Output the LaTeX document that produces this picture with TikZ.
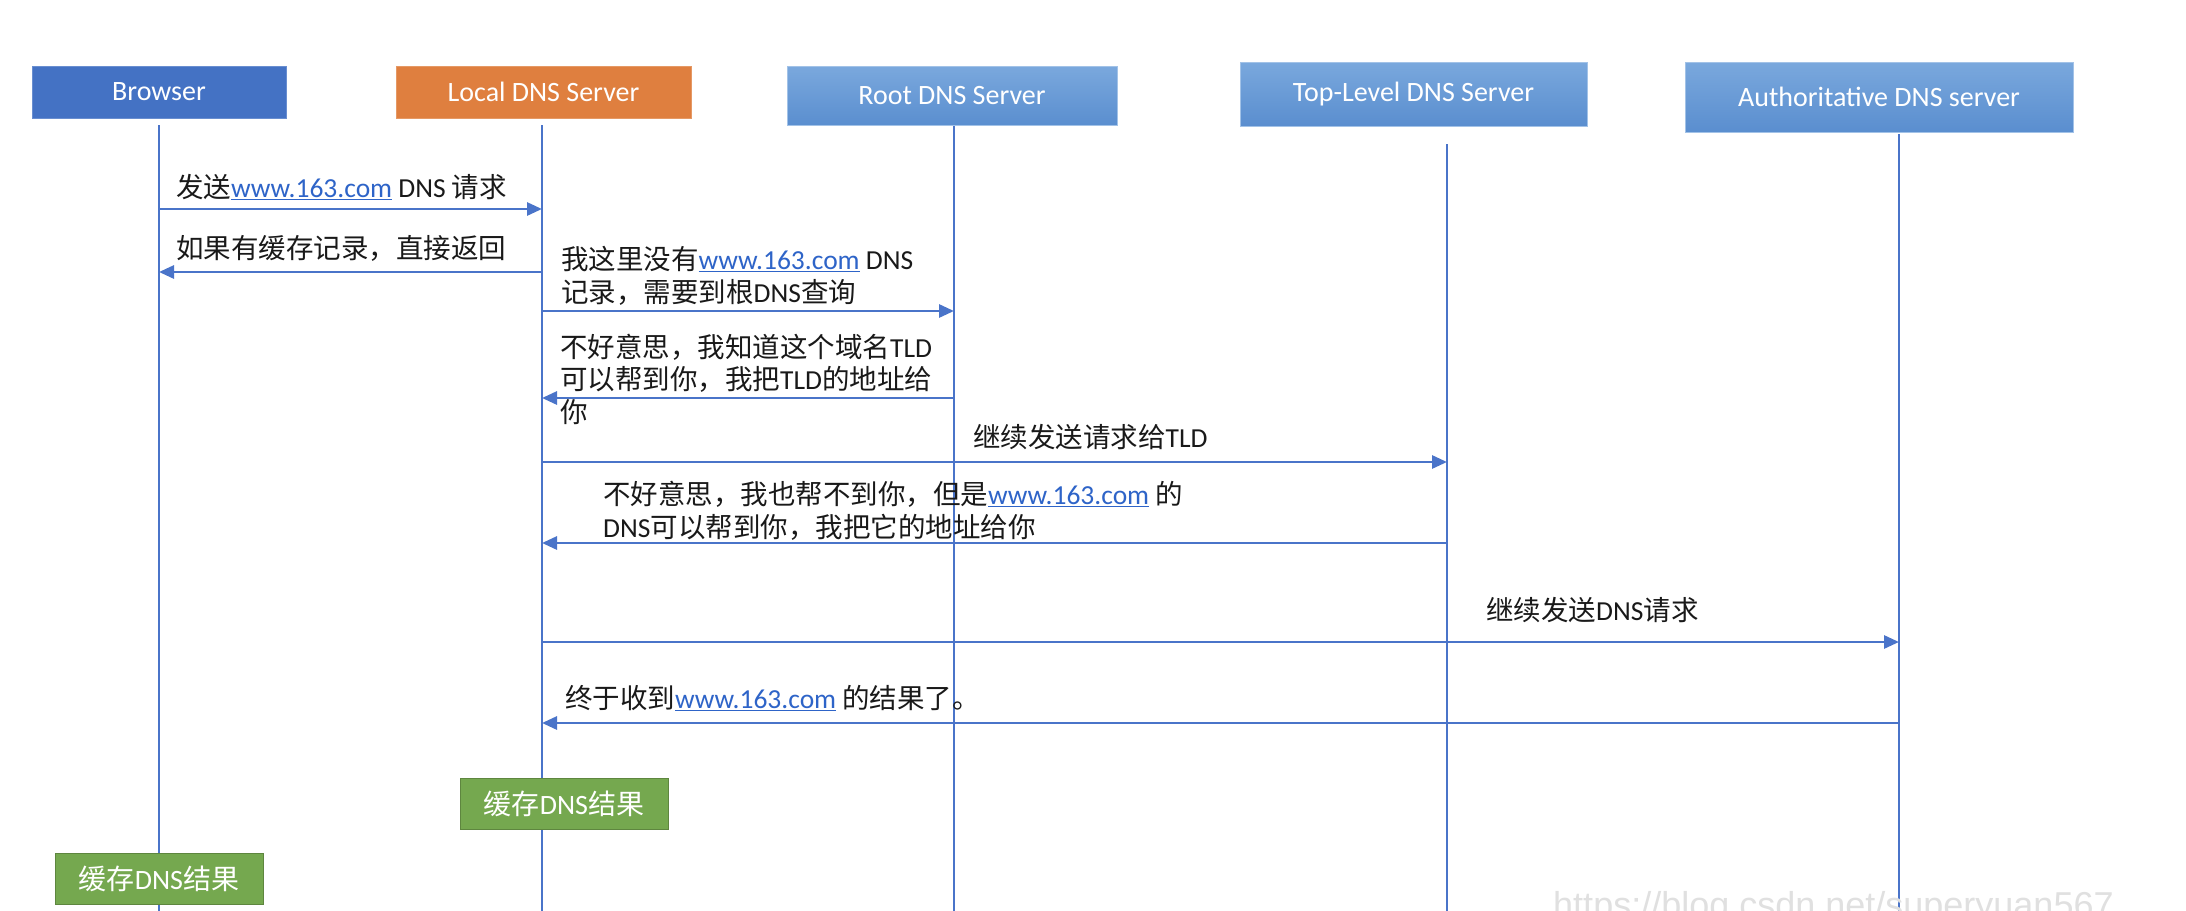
\documentclass[tikz,border=0pt]{standalone}
\usepackage{fontspec}
\setmainfont{Carlito}
\newfontfamily\cjk{Noto Sans CJK SC}
\newfontfamily\wmfont{Liberation Sans}
\usetikzlibrary{arrows.meta}
\definecolor{lineblue}{HTML}{4A74C9}
\definecolor{browserc}{HTML}{4472C4}
\definecolor{localc}{HTML}{DF7F3F}
\definecolor{lbtop}{HTML}{7AA8DD}
\definecolor{lbbot}{HTML}{5A8ECF}
\definecolor{greenc}{HTML}{75A84F}
\definecolor{linkc}{HTML}{2E64C8}
\newcommand\ZH[1]{{\cjk #1}}
\newcommand\lnk[1]{\textcolor{linkc}{\underline{#1}}}
\tikzset{
  boxfont/.style={font=\fontsize{28}{32}\selectfont},
  actor/.style={boxfont, text=white, inner sep=0pt, line width=1pt},
  darkbox/.style={actor, fill=#1, draw=#1!80!white},
  lightbox/.style={actor, top color=lbtop, bottom color=lbbot, draw=lbtop!70!white},
  cachebox/.style={actor, fill=greenc, draw=greenc!80!black, minimum width=208pt, minimum height=51pt},
  life/.style={draw=lineblue, line width=1.8pt},
  msg/.style={draw=lineblue, line width=2.8pt, -{Triangle[length=15pt,width=13pt]}},
  lbl/.style={font=\fontsize{27.5}{32.5}\selectfont, text=black!90, inner sep=0pt, align=left, anchor=west},
}
\begin{document}
\begin{tikzpicture}[x=1pt,y=-1pt]
\useasboundingbox (0,0) rectangle (2186,910);
\fill[white] (0,0) rectangle (2186,910);

% actors
\node[darkbox=browserc, minimum width=254pt, minimum height=52pt] (browser) at (159,92) {Browser};
\node[darkbox=localc, minimum width=295pt, minimum height=52pt] (local) at (543.5,92) {Local DNS Server};
\node[lightbox, minimum width=330pt, minimum height=59pt] (root) at (952,96) {Root DNS Server};
\node[lightbox, minimum width=347pt, minimum height=64pt] (tld) at (1413.5,94) {Top-Level DNS Server};
\node[lightbox, minimum width=388pt, minimum height=70pt] (auth) at (1879,97) {Authoritative DNS server};

% lifeline tops and bottom
\coordinate (bt) at (159,125);
\coordinate (lt) at (542,125);
\coordinate (rt) at (954,126);
\coordinate (tt) at (1447,144);
\coordinate (at) at (1899,134);
\coordinate (bottom) at (0,912);

\draw[life] (bt) -- (bt |- bottom);
\draw[life] (lt) -- (lt |- bottom);
\draw[life] (rt) -- (rt |- bottom);
\draw[life] (tt) -- (tt |- bottom);
\draw[life] (at) -- (at |- bottom);

% message rows
\coordinate (m1) at (0,209);
\coordinate (m2) at (0,272);
\coordinate (m3) at (0,311);
\coordinate (m4) at (0,398);
\coordinate (m5) at (0,462);
\coordinate (m6) at (0,543);
\coordinate (m7) at (0,642);
\coordinate (m8) at (0,723);

\draw[msg] (bt |- m1) -- (lt |- m1);
\draw[msg] (lt |- m2) -- (bt |- m2);
\draw[msg] (lt |- m3) -- (rt |- m3);
\draw[msg] (rt |- m4) -- (lt |- m4);
\draw[msg] (lt |- m5) -- (tt |- m5);
\draw[msg] (tt |- m6) -- (lt |- m6);
\draw[msg] (lt |- m7) -- (at |- m7);
\draw[msg] (at |- m8) -- (lt |- m8);

% labels
\node[lbl] (t1) at (176,187) {\ZH{发送}\lnk{www.163.com} DNS \ZH{请求}};
\node[lbl] (t2) at (176,248) {\ZH{如果有缓存记录，直接返回}};
\node[lbl] (t3) at (561,276) {\ZH{我这里没有}\lnk{www.163.com} DNS\\\ZH{记录，需要到根}DNS\ZH{查询}};
\node[lbl] (t4) at (560,379) {\ZH{不好意思，我知道这个域名}TLD\\\ZH{可以帮到你，我把}TLD\ZH{的地址给}\\\ZH{你}};
\node[lbl] (t5) at (973,437) {\ZH{继续发送请求给}TLD};
\node[lbl] (t6) at (603,511) {\ZH{不好意思，我也帮不到你，但是}\lnk{www.163.com} \ZH{的}\\DNS\ZH{可以帮到你，我把它的地址给你}};
\node[lbl] (t7) at (1486,610) {\ZH{继续发送}DNS\ZH{请求}};
\node[lbl] (t8) at (565,698) {\ZH{终于收到}\lnk{www.163.com} \ZH{的结果了。}};

% cache boxes
\node[cachebox] (cl) at (564,804) {\ZH{缓存}DNS\ZH{结果}};
\node[cachebox] (cb) at (159,879) {\ZH{缓存}DNS\ZH{结果}};

% watermark
\node[anchor=base west, inner sep=0pt, font=\wmfont\fontsize{36}{36}\selectfont, text=black!12] (wm) at (1553,917) {https://blog.csdn.net/superyuan567};
\end{tikzpicture}
\end{document}
